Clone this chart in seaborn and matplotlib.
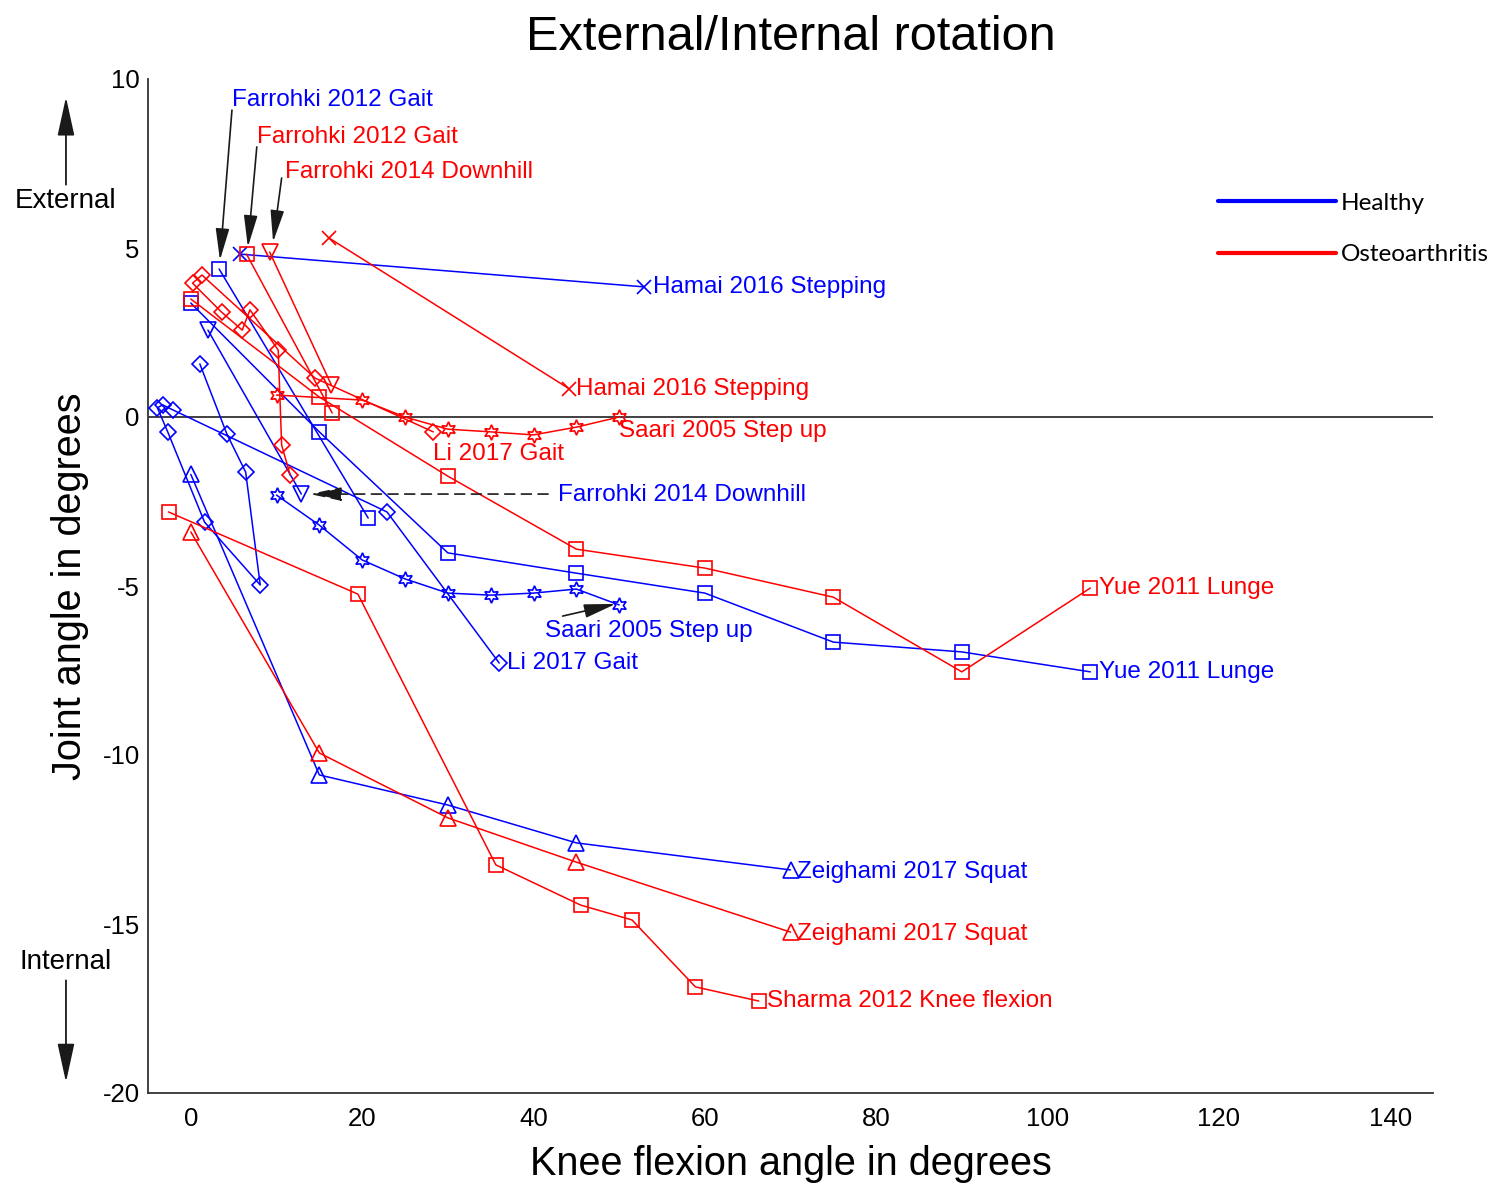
import numpy as np
import pandas as pd
import matplotlib.pyplot as plt
import seaborn as sns
from matplotlib.lines import Line2D

# ---- values: knee flexion (deg) vs rotation (deg) ----
# Healthy knees (blue)
farrohki12_h_x = [3.3, 20.7]
farrohki12_h_y = [4.38, -2.99]
farrohki14_h_x = [2.0, 12.9]
farrohki14_h_y = [2.57, -2.28]
hamai_h_x = [5.7, 52.9]
hamai_h_y = [4.82, 3.85]
yue_h_x = [0, 15, 30, 45, 60, 75, 90, 105]
yue_h_y = [3.37, -0.44, -4.02, -4.62, -5.21, -6.66, -6.95, -7.54]
saari_h_x = [10, 15, 20, 25, 30, 35, 40, 45, 50]
saari_h_y = [-2.31, -3.20, -4.23, -4.79, -5.21, -5.27, -5.21, -5.09, -5.56]
li_h_x = [1.05, 4.2, 6.4, 8.1, 1.6, -2.7, -3.9, -3.3, -2.1, 22.9, 36.0]
li_h_y = [1.57, -0.50, -1.63, -4.97, -3.11, -0.44, 0.27, 0.36, 0.21, -2.81, -7.28]
zeighami_h_x = [0, 15, 30, 45, 70]
zeighami_h_y = [-1.70, -10.59, -11.48, -12.60, -13.40]

# Osteoarthritis knees (red)
farrohki12_oa_x = [6.5, 16.5]
farrohki12_oa_y = [4.82, 0.12]
farrohki14_oa_x = [9.2, 16.4]
farrohki14_oa_y = [4.88, 0.95]
hamai_oa_x = [16.1, 44.2]
hamai_oa_y = [5.30, 0.83]
yue_oa_x = [0, 15, 30, 45, 60, 75, 90, 105]
yue_oa_y = [3.49, 0.59, -1.75, -3.91, -4.47, -5.33, -7.54, -5.06]
saari_oa_x = [10, 20, 25, 30, 35, 40, 45, 50]
saari_oa_y = [0.65, 0.50, 0.0, -0.36, -0.44, -0.53, -0.30, 0.0]
li_oa_x = [11.6, 10.6, 10.2, 6.9, 6.0, 3.6, 0.2, 1.3, 14.5, 28.3]
li_oa_y = [-1.72, -0.83, 1.98, 3.17, 2.57, 3.10, 3.96, 4.20, 1.15, -0.44]
zeighami_oa_x = [0, 15, 30, 45, 70]
zeighami_oa_y = [-3.40, -9.94, -11.86, -13.17, -15.24]
sharma_oa_x = [-2.6, 19.5, 35.6, 45.5, 51.5, 58.9, 66.3]
sharma_oa_y = [-2.81, -5.24, -13.25, -14.44, -14.88, -16.86, -17.28]

group_names = ['Healthy', 'Osteoarthritis']
x_ticks = [0, 20, 40, 60, 80, 100, 120, 140]
y_ticks = [-20, -15, -10, -5, 0, 5, 10]

BLUE = '#0000ff'
RED = '#ff0000'
STAR = (6, 1, 0)   # six-pointed star, like MATLAB's hexagram

sns.set_theme(style="white")
plt.rcParams['font.family'] = ['Liberation Sans', 'DejaVu Sans']
plt.rcParams['axes.unicode_minus'] = False
plt.rcParams['text.color'] = 'black'
plt.rcParams['axes.labelcolor'] = 'black'

fig = plt.figure(figsize=(14.96, 11.84), dpi=100)
ax = fig.add_axes([148 / 1496, 1 - 1093 / 1184, (1433 - 148) / 1496, (1093 - 79) / 1184])

ax.axhline(0, color='#333333', lw=1.3, zorder=1)


def draw(x, y, color, marker, ms=10):
    sns.lineplot(x=x, y=y, sort=False, estimator=None, color=color, lw=1.1,
                 marker=marker, markersize=ms, markerfacecolor='none',
                 markeredgecolor=color, markeredgewidth=1.2, ax=ax, zorder=3)


# healthy
draw(farrohki12_h_x, farrohki12_h_y, BLUE, 's')
draw(farrohki14_h_x, farrohki14_h_y, BLUE, 'v', 11)
draw(hamai_h_x, hamai_h_y, BLUE, 'x', 10)
draw(yue_h_x, yue_h_y, BLUE, 's')
draw(saari_h_x, saari_h_y, BLUE, STAR, 11)
draw(li_h_x, li_h_y, BLUE, 'D', 8.5)
draw(zeighami_h_x, zeighami_h_y, BLUE, '^', 11)
# osteoarthritis
draw(farrohki12_oa_x, farrohki12_oa_y, RED, 's')
draw(farrohki14_oa_x, farrohki14_oa_y, RED, 'v', 11)
draw(hamai_oa_x, hamai_oa_y, RED, 'x', 10)
draw(yue_oa_x, yue_oa_y, RED, 's')
draw(saari_oa_x, saari_oa_y, RED, STAR, 11)
draw(li_oa_x, li_oa_y, RED, 'D', 8.5)
draw(zeighami_oa_x, zeighami_oa_y, RED, '^', 11)
draw(sharma_oa_x, sharma_oa_y, RED, 's')

# series labels at the end of the curves
fs = 17.5
lab = dict(fontsize=fs, ha='left', va='center')
ax.text(hamai_h_x[-1] + 1.0, hamai_h_y[-1], 'Hamai 2016 Stepping', color=BLUE, **lab)
ax.text(hamai_oa_x[-1] + 0.8, hamai_oa_y[-1], 'Hamai 2016 Stepping', color=RED, **lab)
ax.text(saari_oa_x[-1], -0.42, 'Saari 2005 Step up', color=RED, **lab)
ax.text(28.3, -1.10, 'Li 2017 Gait', color=RED, **lab)
ax.text(li_h_x[-1] + 0.9, li_h_y[-1], 'Li 2017 Gait', color=BLUE, **lab)
ax.text(yue_oa_x[-1] + 1.0, yue_oa_y[-1], 'Yue 2011 Lunge', color=RED, **lab)
ax.text(yue_h_x[-1] + 1.0, yue_h_y[-1], 'Yue 2011 Lunge', color=BLUE, **lab)
ax.text(zeighami_h_x[-1] + 0.8, zeighami_h_y[-1] - 0.05, 'Zeighami 2017 Squat', color=BLUE, **lab)
ax.text(zeighami_oa_x[-1] + 0.8, zeighami_oa_y[-1] - 0.05, 'Zeighami 2017 Squat', color=RED, **lab)
ax.text(sharma_oa_x[-1] + 0.9, sharma_oa_y[-1], 'Sharma 2012 Knee flexion', color=RED, **lab)
ax.text(41.4, -6.33, 'Saari 2005 Step up', color=BLUE, **lab)
ax.text(42.9, -2.32, 'Farrohki 2014 Downhill', color=BLUE, **lab)
ax.text(4.8, 9.38, 'Farrohki 2012 Gait', color=BLUE, **lab)
ax.text(7.7, 8.28, 'Farrohki 2012 Gait', color=RED, **lab)
ax.text(11.0, 7.25, 'Farrohki 2014 Downhill', color=RED, **lab)

# arrows pointing at the short curves
arrow = dict(arrowstyle='-|>,head_length=1.3,head_width=0.28', color='k', lw=1.2,
             mutation_scale=15, shrinkA=0, shrinkB=0)
ax.annotate('', xy=(3.4, 4.64), xytext=(4.8, 9.08), arrowprops=arrow)
ax.annotate('', xy=(6.66, 5.03), xytext=(7.7, 7.99), arrowprops=arrow)
ax.annotate('', xy=(9.6, 5.18), xytext=(10.6, 7.07), arrowprops=arrow)
ax.annotate('', xy=(49.6, -5.53), xytext=(43.4, -5.89), arrowprops=arrow)
ax.annotate('', xy=(13.9, -2.28), xytext=(41.7, -2.28),
            arrowprops=dict(arrow, linestyle=(0, (6, 4))))

# direction hints outside the axes
ax.text(0.0441, 0.830, 'External', fontsize=20, ha='center', va='center',
        transform=fig.transFigure)
ax.text(0.0441, 0.1875, 'Internal', fontsize=20, ha='center', va='center',
        transform=fig.transFigure)
big_arrow = dict(arrowstyle='-|>,head_length=1.6,head_width=0.35', color='k', lw=1.3,
                 mutation_scale=15, shrinkA=0, shrinkB=0)
ax.annotate('', xy=(0.0441, 0.918), xytext=(0.0441, 0.844), xycoords='figure fraction',
            textcoords='figure fraction', arrowprops=big_arrow, annotation_clip=False)
ax.annotate('', xy=(0.0441, 0.086), xytext=(0.0441, 0.172), xycoords='figure fraction',
            textcoords='figure fraction', arrowprops=big_arrow, annotation_clip=False)

# legend
handles = [Line2D([], [], color=BLUE, lw=3), Line2D([], [], color=RED, lw=3)]
leg = ax.legend(handles, group_names, loc='upper left', bbox_to_anchor=(0.814, 0.837),
                bbox_transform=fig.transFigure, frameon=False, borderpad=0, borderaxespad=0,
                handlelength=4.85, handletextpad=0.2, labelspacing=1.25,
                prop=dict(family='Lato', size=17.5))

ax.set_xlim(-5, 145)
ax.set_ylim(-20, 10)
ax.set_xticks(x_ticks)
ax.set_yticks(y_ticks)
ax.tick_params(axis='both', direction='in', length=9, width=1.2, labelsize=18.5,
               colors='#333333', labelcolor='black')
ax.tick_params(axis='x', pad=10)
ax.tick_params(axis='y', pad=6)
for side in ['top', 'right']:
    ax.spines[side].set_visible(False)
for side in ['left', 'bottom']:
    ax.spines[side].set_color('#333333')
    ax.spines[side].set_linewidth(1.3)

ax.set_title('External/Internal rotation', fontsize=35, pad=21)
ax.set_xlabel('Knee flexion angle in degrees', fontsize=28.5, labelpad=10)
ax.set_ylabel('Joint angle in degrees', fontsize=28.5, labelpad=10)

fig.savefig('out.png', dpi=100)
